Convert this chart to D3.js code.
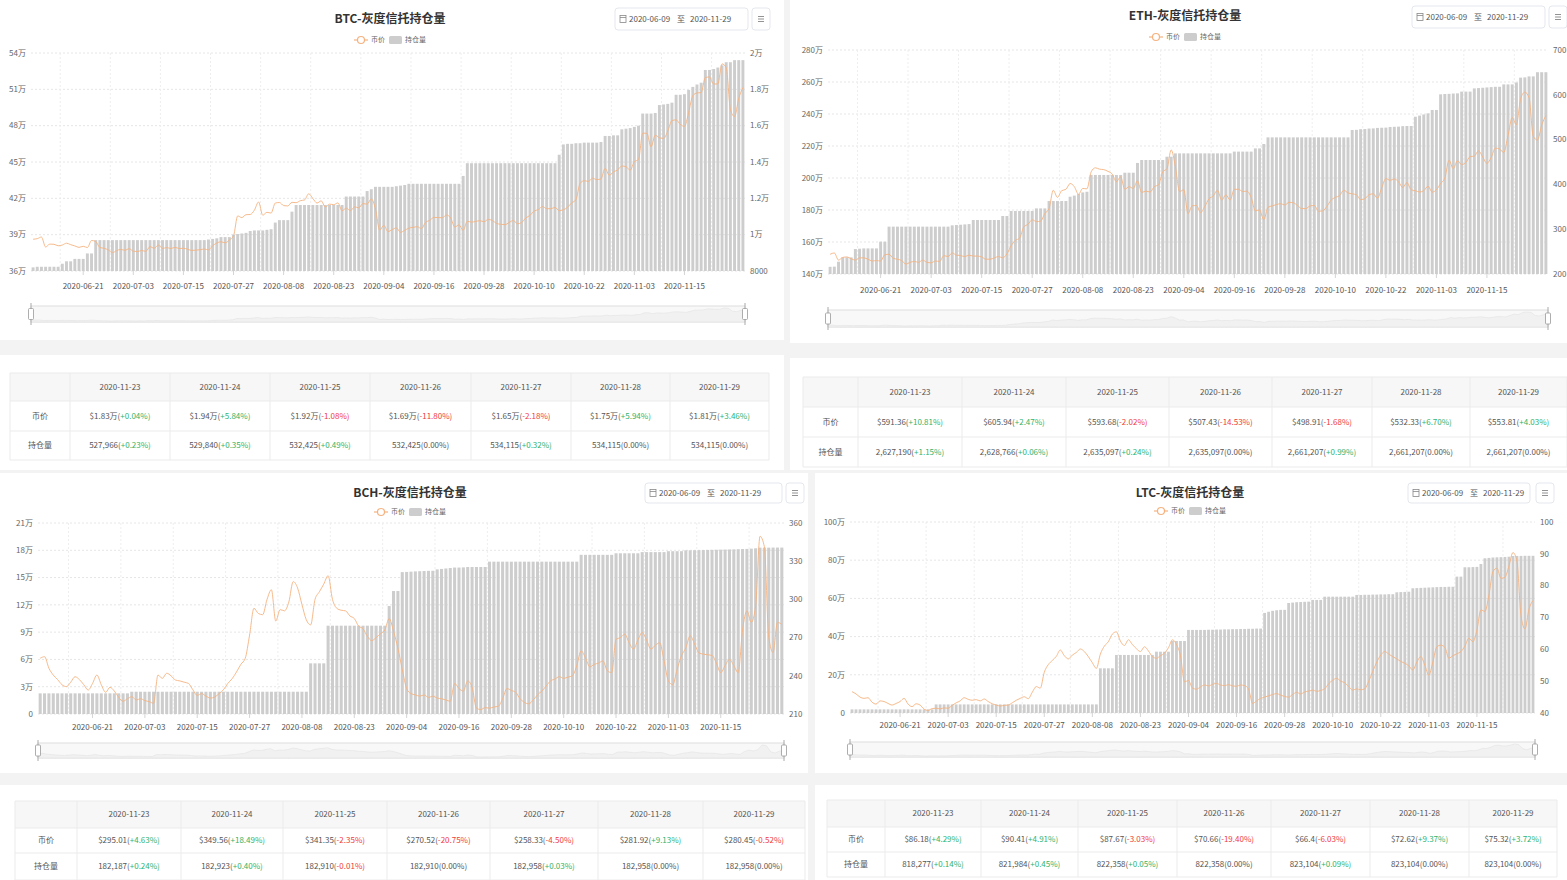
<!DOCTYPE html>
<html>
<head>
<meta charset="utf-8">
<script src="https://cdn.jsdelivr.net/npm/d3@7"></script>
<style>
  body { margin: 0; background: #f3f3f3; }
  svg { display: block; }
</style>
</head>
<body>
<svg id="page" width="1567" height="880"></svg>
<script>
// ---- categories: daily dates, three days missing in the source feed
const skipDays = ["2020-08-09", "2020-08-10", "2020-08-11"];
const fmtDay = d3.timeFormat("%Y-%m-%d");
const dates = d3.timeDay.range(new Date(2020, 5, 9), new Date(2020, 10, 30))
  .map(fmtDay)
  .filter(d => !skipDays.includes(d));

// ---- holdings (万) and prices ($)
const btcHold = [
  36.3,36.35,36.35,36.35,36.35,36.35,36.35,
  36.6,36.8,36.8,
  37.0,37.0,37.0,
  37.45,37.45,
  38.55,38.55,38.55,38.55,38.55,38.55,38.55,38.55,38.55,
  38.55,38.55,38.55,38.55,38.55,38.55,38.55,38.55,38.55,
  38.55,38.55,38.55,38.55,38.55,38.55,38.55,38.55,38.55,
  38.6,38.65,38.7,
  38.8,38.8,38.8,
  39.0,39.05,39.1,39.15,
  39.3,39.35,39.35,39.35,39.4,39.45,
  40.0,
  40.2,40.2,40.2,
  40.9,
  41.45,41.45,41.45,41.45,41.45,41.45,41.45,41.45,41.45,41.45,41.45,41.45,
  42.15,42.15,42.15,42.15,42.15,
  42.6,42.75,
  42.95,42.95,42.95,42.95,42.95,43.0,43.05,43.1,
  43.2,43.2,43.2,43.2,43.2,43.2,43.2,43.2,43.2,43.2,43.2,43.2,43.2,
  43.85,
  44.9,44.9,44.9,44.9,44.9,44.9,44.9,44.9,44.9,44.9,44.9,
  44.9,44.9,44.9,44.9,44.9,44.9,44.9,44.9,44.9,44.9,44.9,
  45.6,
  46.45,46.5,46.5,46.55,46.55,46.6,46.6,46.6,46.6,46.65,
  47.15,47.15,47.2,47.2,
  47.7,47.75,47.8,47.9,48.0,
  49.0,49.0,49.0,49.05,
  49.7,49.75,49.8,49.9,
  50.55,50.55,50.6,
  50.95,
  51.2,51.4,51.55,
  52.6,52.6,52.68,
  52.80,52.98,53.24,53.24,53.41,53.41,53.41
];
const btcPrice = [
  9750,9780,9870,9320,9480,9470,9390,9430,9530,9450,9380,9300,9360,9290,9680,9620,9290,9250,9160,9010,9120,9190,
  9140,9230,9090,9070,9130,9080,9340,9250,9430,9240,9290,9240,9300,9240,9250,9200,9130,9150,9170,9210,
  9160,9390,9540,9610,9550,9710,9930,11030,10940,11100,11110,
  11350,11800,11070,11230,11190,11740,11770,11600,
  11580,11780,11760,11870,11910,12250,11990,11740,11860,11520,11680,11650,11750,11320,11460,11320,11530,11480,11710,11680,
  11970,11410,10250,10510,10170,10280,10370,10130,10240,10360,10400,10440,10330,10680,10790,
  10950,10940,10930,11080,10920,10420,10540,10240,10740,10690,10730,10770,10710,10840,10780,
  10620,10570,10550,10670,10790,10600,10670,10920,11060,11300,11380,11550,11430,11430,11500,11320,
  11370,11510,11750,11920,12820,12970,12930,13110,13030,13070,13650,13270,13460,13560,13780,
  13740,13550,14020,14140,15590,15580,14830,15480,15330,15300,15700,16280,16320,16070,15960,
  16720,17650,17800,17820,18650,18680,18290,18300,19400,19200,16900,16500,17500,18100
];
const ethHold = [
  144.5,144.6,
  147.7,
  150.4,150.4,150.4,
  155.6,155.8,156,156,156,156,
  160.2,160.2,
  169.6,169.6,169.6,169.6,169.6,169.6,169.6,169.6,169.6,169.6,169.6,169.6,169.6,169.6,169.6,
  170.4,170.6,170.8,171,171.2,
  173.75,173.75,173.75,173.75,173.75,173.75,173.75,
  176.25,176.25,
  179.4,179.4,179.4,179.4,179.4,179.4,
  181,181,181,
  185.6,185.6,185.6,185.6,185.6,
  188.3,189,190,191,191.4,
  201.9,201.9,201.9,201.9,201.9,201.9,201.9,201.9,
  203.3,203.3,203.3,
  209.4,
  211.25,211.25,211.25,211.25,211.25,211.25,
  213.3,213.3,
  215.4,215.4,215.4,215.4,215.4,215.4,215.4,215.4,215.4,215.4,215.4,215.4,215.4,215.4,
  216.5,216.5,216.5,216.5,216.5,
  218.5,218.5,
  221.25,
  225.4,225.4,225.4,225.4,225.4,225.4,225.4,225.4,225.4,225.4,
  225.4,225.4,225.4,225.4,225.4,225.4,225.4,225.4,225.4,225.4,
  230,230.1,230.5,230.6,230.9,231,231.3,231.4,231.5,231.9,232,232.1,232.4,232.5,232.5,
  238.3,239,239.7,240.4,
  242.5,242.5,
  252.3,252.5,252.6,252.8,252.9,
  254,254,254,
  256,256.2,256.4,256.6,256.8,257,257,
  258.5,258.5,258.5,
  259.7,
  262.72,262.88,263.51,263.51,266.12,266.12,266.12
];
const ethPrice = [
  244,247,231,237,238,234,231,236,236,233,229,230,229,243,244,235,233,230,222,226,228,226,
  231,226,225,229,228,241,239,247,242,241,239,242,240,240,238,233,233,236,239,236,
  245,263,275,280,305,311,321,317,318,335,346,
  387,371,386,389,402,395,378,391,
  390,428,437,434,433,429,423,406,417,389,395,391,408,382,385,383,395,399,428,435,
  477,440,384,388,335,352,353,337,351,368,374,387,365,377,365,
  389,389,384,385,371,341,343,321,349,352,355,357,354,360,359,
  353,346,346,352,353,340,341,351,365,371,375,387,381,379,377,366,
  368,377,379,369,392,413,409,412,406,393,404,388,386,383,386,
  396,383,388,402,414,454,435,453,444,449,462,463,475,461,447,
  460,481,479,471,509,549,533.6,591.36,605.94,593.68,507.43,498.91,532.33,553.81
];
const bchHold = [
  2.27,2.27,2.27,2.27,2.27,2.27,2.27,2.27,2.27,2.27,2.27,2.27,2.27,2.27,2.27,2.27,2.27,2.27,2.27,2.27,2.27,
  2.45,2.45,2.45,2.45,2.45,2.45,2.45,2.45,2.45,2.45,2.45,2.45,2.45,2.45,2.45,2.45,2.45,2.45,2.45,2.45,
  2.45,2.45,2.45,2.45,2.45,2.45,2.45,2.45,2.45,2.45,2.45,2.45,2.45,2.45,2.45,2.45,2.45,2.45,2.45,2.45,2.45,
  5.57,5.57,5.57,5.57,
  9.71,9.71,9.71,9.71,9.71,9.71,9.71,9.71,9.71,9.71,9.71,9.71,9.71,9.71,
  11.87,
  13.52,13.52,
  15.6,15.62,15.65,15.68,15.7,15.72,15.74,15.75,
  15.9,15.95,16.0,16.05,16.1,16.1,16.12,
  16.16,16.16,16.16,16.16,16.16,
  16.75,16.75,16.75,16.75,16.75,16.75,16.75,16.75,16.75,16.75,16.75,
  16.75,16.75,16.75,16.75,16.75,16.75,16.75,16.75,16.75,16.75,
  17.5,17.5,17.5,17.5,17.5,17.5,17.5,17.5,
  17.67,17.67,17.67,17.67,17.67,17.67,
  17.8,17.8,17.8,17.8,17.8,17.8,
  17.9,17.9,17.9,17.9,
  18.0,18.0,18.01,18.02,18.03,18.04,18.05,18.06,18.07,18.08,18.09,18.1,18.12,18.14,18.15,
  18.18,18.22,18.29,18.29,18.29,18.30,18.30,18.30
];
const bchPrice = [
  253.8,255,246,240.6,237,233,231.5,235,239.3,237,233,228.8,234,240.6,233,227,231,228,223,220,
  222,223.6,221,222,220.5,219.7,218.4,240.6,238,242,240,236.7,236,235,234,229,224.6,226,224,222.5,
  223.3,226,229,234,237.7,243,249,253.7,272,293,289,288,300,307.6,283,292,291,298,314,309,
  296,284,280,300,306,312,318.6,300,293,291.5,291,287,285,279,277,271,267.6,270,273,276,
  285,275,261.6,245,230,226,225,224,225,223,224,222.5,222,221,220,234,230,228,236,231,
  214.6,213.5,215,214.6,215.5,216,222,230,228.5,227,222,219,218,221,225,228,232,236,237.5,239.3,
  238,239,240,248,259.6,254,247,249,250,251.7,244,242.5,268.6,270,272.7,266,261,268,274,268,
  261,264,266,252,236,233,245,255.8,262,271.5,265,258,257,256.5,256,250,242.5,248,253,248,
  242.5,276,291,281.96,295.01,349.56,341.35,270.52,258.33,281.92,280.45
];
const ltcHold = [
  1.9,1.9,1.9,1.9,1.9,1.9,1.9,1.9,1.9,1.9,1.9,1.9,1.9,1.9,1.9,1.9,1.9,1.9,1.9,1.9,1.9,
  4.5,4.5,4.5,4.5,4.5,4.5,4.5,4.5,4.5,4.5,4.5,4.5,4.5,4.5,4.5,4.5,4.5,4.5,4.5,4.5,
  4.5,4.5,4.5,4.5,4.5,4.5,4.5,4.5,4.5,4.5,4.5,4.5,4.5,4.5,4.5,4.5,4.5,4.5,4.5,4.5,4.5,
  23.4,23.4,23.4,23.4,
  30.4,30.4,30.4,30.4,30.4,30.4,30.4,30.4,30.4,30.4,
  32.1,32.1,32.1,32.1,
  37.7,37.7,37.7,37.7,
  43.5,43.5,43.5,43.5,43.5,43.6,43.6,43.7,43.7,43.8,43.8,43.9,43.9,44,44,44.1,44.1,44.2,44.2,
  52.4,53,53.5,53.8,54,54,
  57.6,57.8,58,58.1,58.2,58.3,
  59.2,59.2,59.2,
  60.9,60.9,60.9,60.9,60.9,60.9,60.9,60.9,
  61.8,61.8,61.9,61.9,62,62,62.1,62.1,62.2,62.2,
  63.2,63.3,63.4,63.5,
  65.3,65.4,65.5,65.6,65.7,65.8,65.9,66,66,66.1,66.1,
  71.4,71.4,
  76.3,76.3,76.4,76.5,78,
  81.0,81.2,81.4,81.5,81.6,
  81.71,81.83,82.20,82.24,82.24,82.31,82.31,82.31
];
const ltcPrice = [
  46.7,46.0,45.0,44.6,44.8,43.4,42.8,43.8,43.6,43.0,42.5,43.0,43.6,44.6,42.8,42.0,42.9,42.5,41.2,40.8,
  41.4,41.5,41.3,41.6,41.5,42.4,43.2,43.8,44.8,44.3,44.0,44.2,43.8,44.4,43.6,42.9,42.5,42.2,42.4,42.5,
  43.2,44.0,44.6,45.1,44.5,46.5,48.3,47.8,52.8,55.2,56.5,57.8,59.8,58.0,57.0,58.2,59.0,60.1,59.3,57.7,
  55.8,54.0,58.5,61.0,62.4,64.8,65.5,62.6,61.2,63.0,61.5,60.2,59.3,60.8,59.5,57.7,57.2,58.0,58.8,60.5,
  63.0,61.5,58.0,49.8,50.2,47.8,47.5,48.2,48.8,48.5,49.0,49.3,48.8,48.6,48.9,48.5,48.4,48.8,48.6,47.5,
  43.0,43.8,44.6,45.0,45.4,45.8,46.1,45.6,45.2,45.0,45.8,46.5,46.0,46.6,46.9,47.2,46.8,47.1,47.6,49.2,
  50.3,50.9,50.0,49.5,48.3,47.2,47.6,47.3,47.6,50.0,53.1,56.0,58.2,59.3,58.5,57.7,57.0,56.2,55.6,54.8,
  53.5,56.0,57.7,55.0,51.9,56.0,60.8,61.3,60.6,57.2,58.0,58.6,59.3,61.0,63.5,62.4,66.0,72.4,71.9,77.0,
  84.4,85.5,82.3,82.64,86.18,90.41,87.67,70.66,66.4,72.62,75.32
];

// ---- axis tick values
const btcLeftTicks = [36, 39, 42, 45, 48, 51, 54];
const btcRightTicks = [8000, 10000, 12000, 14000, 16000, 18000, 20000];
const ethLeftTicks = [140, 160, 180, 200, 220, 240, 260, 280];
const ethRightTicks = [200, 300, 400, 500, 600, 700];
const bchLeftTicks = [0, 3, 6, 9, 12, 15, 18, 21];
const bchRightTicks = [210, 240, 270, 300, 330, 360];
const ltcLeftTicks = [0, 20, 40, 60, 80, 100];
const ltcRightTicks = [40, 50, 60, 70, 80, 90, 100];

// ---- last-week tables
const tableDates = ["2020-11-23","2020-11-24","2020-11-25","2020-11-26","2020-11-27","2020-11-28","2020-11-29"];
const btcTabPrice = [18300, 19400, 19200, 16900, 16500, 17500, 18100];
const btcTabPriceChg = [0.04, 5.84, -1.08, -11.80, -2.18, 5.94, 3.46];
const btcTabHold = [527966, 529840, 532425, 532425, 534115, 534115, 534115];
const btcTabHoldChg = [0.23, 0.35, 0.49, 0, 0.32, 0, 0];
const ethTabPrice = [591.36, 605.94, 593.68, 507.43, 498.91, 532.33, 553.81];
const ethTabPriceChg = [10.81, 2.47, -2.02, -14.53, -1.68, 6.70, 4.03];
const ethTabHold = [2627190, 2628766, 2635097, 2635097, 2661207, 2661207, 2661207];
const ethTabHoldChg = [1.15, 0.06, 0.24, 0, 0.99, 0, 0];
const bchTabPrice = [295.01, 349.56, 341.35, 270.52, 258.33, 281.92, 280.45];
const bchTabPriceChg = [4.63, 18.49, -2.35, -20.75, -4.50, 9.13, -0.52];
const bchTabHold = [182187, 182923, 182910, 182910, 182958, 182958, 182958];
const bchTabHoldChg = [0.24, 0.40, -0.01, 0, 0.03, 0, 0];
const ltcTabPrice = [86.18, 90.41, 87.67, 70.66, 66.4, 72.62, 75.32];
const ltcTabPriceChg = [4.29, 4.91, -3.03, -19.40, -6.03, 9.37, 3.72];
const ltcTabHold = [818277, 821984, 822358, 822358, 823104, 823104, 823104];
const ltcTabHoldChg = [0.14, 0.45, 0.05, 0, 0.09, 0, 0];

// ---- page
const FONT = '"Noto Sans CJK SC", "Noto Sans", sans-serif';
const LINE_COLOR = "#f5b27f";
const svg = d3.select("#page").style("font-family", FONT);
svg.append("rect").attr("width", 1567).attr("height", 880).attr("fill", "#f3f3f3");

const cards = [
  [0, 0, 784, 340], [790, 0, 777, 343],
  [0, 355, 784, 115], [790, 358, 777, 112],
  [0, 473, 808, 300], [815, 473, 752, 300],
  [0, 785, 808, 95], [815, 785, 752, 95]
];
svg.selectAll("rect.card").data(cards).join("rect")
  .attr("class", "card")
  .attr("x", d => d[0]).attr("y", d => d[1])
  .attr("width", d => d[2]).attr("height", d => d[3])
  .attr("fill", "#fff");

const wan = v => v === 0 ? "0" : v + "万";
const wanBig = v => v >= 10000 ? (v / 10000) + "万" : String(v);

const charts = [
  { name: "BTC", hold: btcHold, price: btcPrice, lt: btcLeftTicks, rt: btcRightTicks, rfmt: wanBig,
    l: 31, r: 745, t: 53, b: 271, tx: 390, ty: 19, ly: 40, px: 615, py: 8, pw: 133, ph: 22, mx: 752,
    xly: 286, z0: 306, z1: 322 },
  { name: "ETH", hold: ethHold, price: ethPrice, lt: ethLeftTicks, rt: ethRightTicks, rfmt: String,
    l: 828, r: 1548, t: 50, b: 274, tx: 1185, ty: 16, ly: 37, px: 1412, py: 6, pw: 133, ph: 22, mx: 1549,
    xly: 290, z0: 310, z1: 327 },
  { name: "BCH", hold: bchHold, price: bchPrice, lt: bchLeftTicks, rt: bchRightTicks, rfmt: String,
    l: 38, r: 784, t: 523, b: 714, tx: 410, ty: 493, ly: 512, px: 645, py: 483, pw: 137, ph: 20, mx: 786,
    xly: 727, z0: 743, z1: 758 },
  { name: "LTC", hold: ltcHold, price: ltcPrice, lt: ltcLeftTicks, rt: ltcRightTicks, rfmt: String,
    l: 850, r: 1535, t: 522, b: 713, tx: 1190, ty: 493, ly: 511, px: 1408, py: 483, pw: 122, ph: 20, mx: 1536,
    xly: 725, z0: 742, z1: 757 }
];

function drawChart(c) {
  const g = svg.append("g");
  const x = d3.scaleBand().domain(dates).range([c.l, c.r]).paddingInner(0.3).paddingOuter(0.15);
  const edge = d => x(d) - x.step() * 0.15;
  const mid = d => x(d) + x.bandwidth() / 2;
  const yL = d3.scaleLinear().domain(d3.extent(c.lt)).range([c.b, c.t]);
  const yR = d3.scaleLinear().domain(d3.extent(c.rt)).range([c.b, c.t]);

  // grid
  g.selectAll(".hg").data(c.lt).join("line")
    .attr("x1", c.l).attr("x2", c.r)
    .attr("y1", d => yL(d)).attr("y2", d => yL(d))
    .attr("stroke", "#e6e6e6").attr("stroke-dasharray", "2,2");
  const vIdx = d3.range(7, dates.length, 12);
  g.selectAll(".vg").data(vIdx).join("line")
    .attr("x1", i => edge(dates[i])).attr("x2", i => edge(dates[i]))
    .attr("y1", c.t).attr("y2", c.b)
    .attr("stroke", "#eeeeee").attr("stroke-dasharray", "2,2");

  // bars
  g.selectAll(".bar").data(c.hold).join("rect")
    .attr("x", (d, i) => x(dates[i]))
    .attr("width", x.bandwidth())
    .attr("y", d => yL(d))
    .attr("height", d => c.b - yL(d))
    .attr("fill", "#cdcdcd");

  // price line
  const line = d3.line().x((d, i) => mid(dates[i])).y(d => yR(d)).curve(d3.curveMonotoneX);
  g.append("path").datum(c.price).attr("d", line)
    .attr("fill", "none").attr("stroke", LINE_COLOR).attr("stroke-width", 1).attr("opacity", 0.9);

  // axes labels
  g.selectAll(".ll").data(c.lt).join("text")
    .attr("x", c.l - 5).attr("y", d => yL(d)).attr("dy", "0.35em")
    .attr("text-anchor", "end").attr("font-size", 8).attr("fill", "#666").text(wan);
  g.selectAll(".rl").data(c.rt).join("text")
    .attr("x", c.r + 5).attr("y", d => yR(d)).attr("dy", "0.35em")
    .attr("font-size", 8).attr("fill", "#666").text(c.rfmt);
  const lIdx = d3.range(12, 157, 12);
  g.selectAll(".xt").data(lIdx).join("line")
    .attr("x1", i => mid(dates[i])).attr("x2", i => mid(dates[i]))
    .attr("y1", c.b).attr("y2", c.b + 4).attr("stroke", "#d5d5d5");
  g.selectAll(".xl").data(lIdx).join("text")
    .attr("x", i => mid(dates[i])).attr("y", c.xly).attr("dy", "0.35em")
    .attr("text-anchor", "middle").attr("font-size", 8).attr("fill", "#555")
    .text(i => dates[i]);

  // title + legend
  g.append("text").attr("x", c.tx).attr("y", c.ty).attr("dy", "0.35em")
    .attr("text-anchor", "middle").attr("font-size", 12).attr("font-weight", "bold")
    .attr("fill", "#333").text(c.name + "-灰度信托持仓量");
  const s = c.tx - 36;
  g.append("line").attr("x1", s).attr("x2", s + 14).attr("y1", c.ly).attr("y2", c.ly)
    .attr("stroke", LINE_COLOR).attr("stroke-width", 1.2);
  g.append("circle").attr("cx", s + 7).attr("cy", c.ly).attr("r", 3.5)
    .attr("fill", "#fff").attr("stroke", LINE_COLOR).attr("stroke-width", 1.2);
  g.append("text").attr("x", s + 17).attr("y", c.ly).attr("dy", "0.35em")
    .attr("font-size", 7).attr("fill", "#666").text("币价");
  g.append("rect").attr("x", s + 35).attr("y", c.ly - 4).attr("width", 13).attr("height", 8)
    .attr("rx", 1.5).attr("fill", "#cdcdcd");
  g.append("text").attr("x", s + 51).attr("y", c.ly).attr("dy", "0.35em")
    .attr("font-size", 7).attr("fill", "#666").text("持仓量");

  // date range picker + menu button
  const cy = c.py + c.ph / 2;
  g.append("rect").attr("x", c.px).attr("y", c.py).attr("width", c.pw).attr("height", c.ph)
    .attr("rx", 3).attr("fill", "#fff").attr("stroke", "#e4e7ed");
  g.append("rect").attr("x", c.px + 5).attr("y", cy - 3.5).attr("width", 6).attr("height", 7)
    .attr("fill", "none").attr("stroke", "#888").attr("stroke-width", 0.8);
  g.append("line").attr("x1", c.px + 5).attr("x2", c.px + 11).attr("y1", cy - 1.5).attr("y2", cy - 1.5)
    .attr("stroke", "#888").attr("stroke-width", 0.8);
  g.append("text").attr("x", c.px + 14).attr("y", cy).attr("dy", "0.35em")
    .attr("font-size", 8).attr("fill", "#555").text(dates[0]);
  g.append("text").attr("x", c.px + 62).attr("y", cy).attr("dy", "0.35em")
    .attr("font-size", 8).attr("fill", "#555").text("至");
  g.append("text").attr("x", c.px + 75).attr("y", cy).attr("dy", "0.35em")
    .attr("font-size", 8).attr("fill", "#555").text(dates[dates.length - 1]);
  g.append("rect").attr("x", c.mx).attr("y", c.py).attr("width", 18).attr("height", c.ph)
    .attr("rx", 3).attr("fill", "#fff").attr("stroke", "#e4e7ed");
  [-2.5, 0, 2.5].forEach(o => g.append("line")
    .attr("x1", c.mx + 6).attr("x2", c.mx + 12).attr("y1", cy + o).attr("y2", cy + o)
    .attr("stroke", "#777").attr("stroke-width", 0.8));

  // data zoom slider with a faint shadow of the price line
  const zx = d3.scaleLinear().domain([0, c.price.length - 1]).range([c.l, c.r]);
  const zy = d3.scaleLinear().domain(d3.extent(c.price)).range([c.z1 - 1, c.z0 + 2]);
  g.append("rect").attr("x", c.l).attr("y", c.z0).attr("width", c.r - c.l).attr("height", c.z1 - c.z0)
    .attr("fill", "#f8f8f8").attr("stroke", "#dddddd");
  g.append("path").datum(c.price)
    .attr("d", d3.area().x((d, i) => zx(i)).y0(c.z1).y1(d => zy(d)))
    .attr("fill", "#f1f1f1").attr("stroke", "#e2e2e2").attr("stroke-width", 0.6);
  [c.l, c.r].forEach(hx => {
    g.append("line").attr("x1", hx).attr("x2", hx).attr("y1", c.z0 - 3).attr("y2", c.z1 + 3)
      .attr("stroke", "#aaa");
    g.append("rect").attr("x", hx - 2.5).attr("y", (c.z0 + c.z1) / 2 - 5.5).attr("width", 5).attr("height", 11)
      .attr("rx", 1).attr("fill", "#fff").attr("stroke", "#999").attr("stroke-width", 0.8);
  });
}
charts.forEach(drawChart);

// ---- tables
const tables = [
  { price: btcTabPrice, pchg: btcTabPriceChg, hold: btcTabHold, hchg: btcTabHoldChg,
    pfmt: v => "$" + (v / 10000).toFixed(2) + "万",
    cols: [10, 70, 170, 270, 370, 471, 571, 670, 769], rows: [373, 401, 431, 460] },
  { price: ethTabPrice, pchg: ethTabPriceChg, hold: ethTabHold, hchg: ethTabHoldChg,
    pfmt: v => "$" + v,
    cols: [803, 858, 962, 1066, 1169, 1272, 1372, 1470, 1567], rows: [377, 407, 437, 467] },
  { price: bchTabPrice, pchg: bchTabPriceChg, hold: bchTabHold, hchg: bchTabHoldChg,
    pfmt: v => "$" + v,
    cols: [15, 77, 181, 283, 387, 490, 598, 703, 805], rows: [801, 828, 853, 880] },
  { price: ltcTabPrice, pchg: ltcTabPriceChg, hold: ltcTabHold, hchg: ltcTabHoldChg,
    pfmt: v => "$" + v,
    cols: [827, 885, 981, 1078, 1177, 1271, 1370, 1469, 1557], rows: [800, 827, 852, 877] }
];
const comma = d3.format(",");

function cellText(sel, main, chg) {
  const t = sel.text(null);
  t.append("tspan").text(main + "(");
  if (chg === 0) {
    t.append("tspan").text("0.00%)");
  } else {
    t.append("tspan").attr("fill", chg > 0 ? "#2fb36b" : "#ef3b3b")
      .text((chg > 0 ? "+" : "") + chg.toFixed(2) + "%)");
  }
}

function drawTable(tb) {
  const g = svg.append("g");
  const [x0, x1] = [tb.cols[0], tb.cols[tb.cols.length - 1]];
  const [y0, y1] = [tb.rows[0], tb.rows[tb.rows.length - 1]];
  g.append("rect").attr("x", x0).attr("y", y0).attr("width", x1 - x0).attr("height", tb.rows[1] - y0)
    .attr("fill", "#f7f7f7");
  g.selectAll(".hr").data(tb.rows).join("line")
    .attr("x1", x0).attr("x2", x1).attr("y1", d => d).attr("y2", d => d)
    .attr("stroke", "#ebebeb");
  g.selectAll(".vr").data(tb.cols).join("line")
    .attr("x1", d => d).attr("x2", d => d).attr("y1", y0).attr("y2", y1)
    .attr("stroke", "#ebebeb");
  const cx = i => (tb.cols[i] + tb.cols[i + 1]) / 2;
  const cy = r => (tb.rows[r] + tb.rows[r + 1]) / 2;
  const txt = (x, y) => g.append("text").attr("x", x).attr("y", y).attr("dy", "0.35em")
    .attr("text-anchor", "middle").attr("font-size", 8).attr("fill", "#555");
  tableDates.forEach((d, i) => txt(cx(i + 1), cy(0)).text(d));
  txt(cx(0), cy(1)).text("币价");
  txt(cx(0), cy(2)).text("持仓量");
  tb.price.forEach((v, i) => cellText(txt(cx(i + 1), cy(1)), tb.pfmt(v), tb.pchg[i]));
  tb.hold.forEach((v, i) => cellText(txt(cx(i + 1), cy(2)), comma(v), tb.hchg[i]));
}
tables.forEach(drawTable);
</script>
</body>
</html>
